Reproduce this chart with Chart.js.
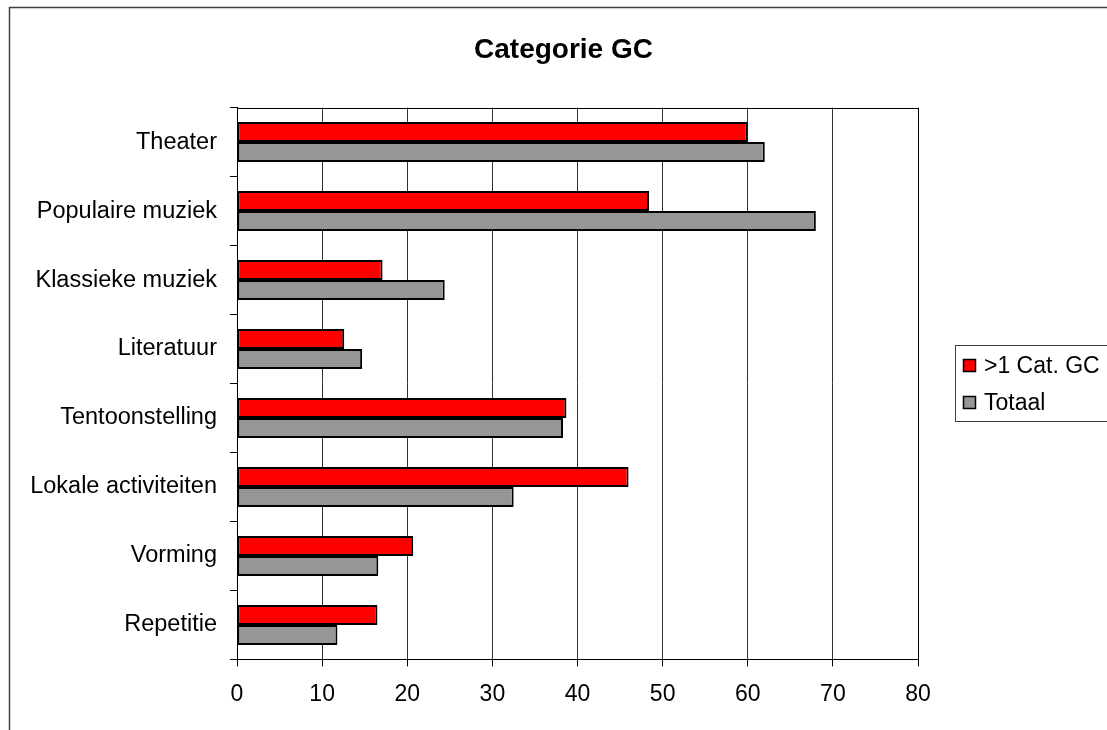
<!DOCTYPE html>
<html>
<head>
<meta charset="utf-8">
<script src="https://cdn.jsdelivr.net/npm/chart.js@4.4.1/dist/chart.umd.min.js"></script>
<style>
  html, body { margin: 0; padding: 0; background: #fff; }
  canvas { display: block; }
</style>
</head>
<body>
<canvas id="c" width="1107" height="730"></canvas>
<script>
const categories = ["Theater", "Populaire muziek", "Klassieke muziek", "Literatuur", "Tentoonstelling", "Lokale activiteiten", "Vorming", "Repetitie"];
const seriesNames = [">1 Cat. GC", "Totaal"];
const multiCat = [60.0, 48.4, 17.1, 12.6, 38.7, 46.0, 20.7, 16.5];
const totaal = [62.0, 68.0, 24.4, 14.7, 38.3, 32.5, 16.6, 11.8];
const xTicks = [0, 10, 20, 30, 40, 50, 60, 70, 80];
const chartTitle = "Categorie GC";

const FONT = "'Liberation Sans', Arial, sans-serif";

const framePlugin = {
  id: 'frame',
  beforeDraw(chart) {
    const ctx = chart.ctx;
    ctx.save();
    ctx.fillStyle = '#fff';
    ctx.fillRect(0, 0, chart.width, chart.height);
    ctx.restore();
  },
  afterDraw(chart) {
    const ctx = chart.ctx;
    const a = chart.chartArea;
    ctx.save();
    // outer chart border
    ctx.strokeStyle = '#404040';
    ctx.lineWidth = 1.5;
    ctx.beginPath();
    ctx.moveTo(9.5, chart.height);
    ctx.lineTo(9.5, 7.5);
    ctx.lineTo(chart.width, 7.5);
    ctx.stroke();
    // plot area top & right border
    ctx.strokeStyle = '#000';
    ctx.lineWidth = 1;
    ctx.beginPath();
    ctx.moveTo(Math.round(a.left) + 0.5, Math.round(a.top) + 0.5);
    ctx.lineTo(Math.round(a.right) + 0.5, Math.round(a.top) + 0.5);
    ctx.lineTo(Math.round(a.right) + 0.5, Math.round(a.bottom) + 0.5);
    ctx.stroke();
    // legend
    const lx = 955.5, ly = 345.5, lw = 170, lh = 76;
    ctx.strokeStyle = '#404040';
    ctx.lineWidth = 1;
    ctx.fillStyle = '#fff';
    ctx.fillRect(lx, ly, lw, lh);
    ctx.strokeRect(lx, ly, lw, lh);
    ctx.font = "23px " + FONT;
    ctx.textBaseline = 'middle';
    ctx.textAlign = 'left';
    chart.data.datasets.forEach((ds, i) => {
      const cy = 366 + i * 37;
      ctx.fillStyle = ds.backgroundColor;
      ctx.fillRect(963.5, cy - 6.5, 12, 12);
      ctx.strokeStyle = '#000';
      ctx.lineWidth = 1.5;
      ctx.strokeRect(963.5, cy - 6.5, 12, 12);
      ctx.fillStyle = '#000';
      ctx.fillText(ds.label, 984, cy + 1);
    });
    ctx.restore();
  }
};

new Chart(document.getElementById('c'), {
  type: 'bar',
  data: {
    labels: categories,
    datasets: [
      { label: seriesNames[0], data: multiCat, backgroundColor: '#FF0000', borderColor: '#000', borderWidth: 2, borderSkipped: false, categoryPercentage: 0.58, barPercentage: 1.0 },
      { label: seriesNames[1], data: totaal, backgroundColor: '#969696', borderColor: '#000', borderWidth: 2, borderSkipped: false, categoryPercentage: 0.58, barPercentage: 1.0 }
    ]
  },
  options: {
    indexAxis: 'y',
    responsive: false,
    devicePixelRatio: 1,
    animation: false,
    layout: { padding: { left: 20, right: 0, top: 0, bottom: 8 } },
    plugins: {
      legend: { display: false },
      tooltip: { enabled: false },
      title: {
        display: true,
        text: chartTitle,
        color: '#000',
        font: { family: FONT, size: 28, weight: 'bold' },
        padding: { top: 33, bottom: 41 }
      }
    },
    scales: {
      x: {
        type: 'linear',
        min: 0,
        max: 80,
        afterBuildTicks: (s) => { s.ticks = xTicks.map(v => ({ value: v })); },
        ticks: { color: '#000', font: { family: FONT, size: 23 }, padding: 14, maxRotation: 0 },
        grid: { color: '#333', lineWidth: 1, tickLength: 7, tickColor: '#000' },
        border: { color: '#000', width: 1 }
      },
      y: {
        type: 'category',
        afterFit: (s) => { s.width = 217; },
        ticks: { color: '#000', font: { family: FONT, size: 23.5 }, padding: 13 },
        grid: { offset: true, drawOnChartArea: false, tickLength: 7, tickColor: '#000' },
        border: { color: '#000', width: 1 }
      },
      spacer: {
        type: 'linear',
        position: 'right',
        display: true,
        afterFit: (s) => { s.width = 189; },
        ticks: { display: false },
        grid: { display: false, drawTicks: false },
        border: { display: false }
      }
    }
  },
  plugins: [framePlugin]
});
</script>
</body>
</html>
